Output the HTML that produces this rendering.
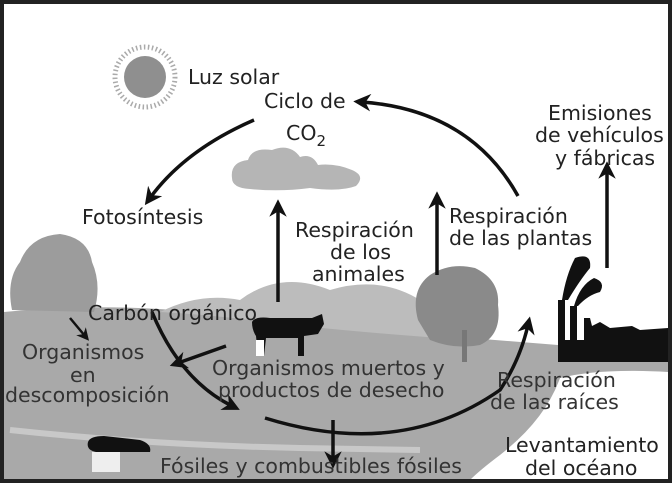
<!DOCTYPE html>
<html><head><meta charset="utf-8"><style>
html,body{margin:0;padding:0;background:#fff}
svg{display:block}
text{font-family:"DejaVu Sans","Liberation Sans",sans-serif;font-size:20.5px;fill:#222}
.g text{fill:#333}
</style></head><body>
<svg width="672" height="483" viewBox="0 0 672 483" xmlns="http://www.w3.org/2000/svg">
<defs>
<marker id="a" viewBox="0 0 10 10" refX="5" refY="5" markerWidth="5" markerHeight="5" orient="auto"><path d="M0,0 L10,5 L0,10 L3,5z" fill="#111"/></marker>
</defs>
<rect x="0" y="0" width="672" height="483" fill="#fff"/>
<path d="M4,312 Q120,300 250,318 Q380,330 470,338 L558,345 L668,345 L668,372 Q600,368 560,378 Q545,420 500,455 Q480,470 470,480 L4,480 Z" fill="#a9a9a9"/>
<path d="M160,312 Q200,292 240,300 Q280,270 330,290 Q380,275 420,300 L440,338 Q330,330 250,320 Q200,314 160,312Z" fill="#bcbcbc"/>
<path d="M12,310 Q6,280 20,262 Q30,236 60,234 Q88,238 92,262 Q102,285 94,312 Z" fill="#9c9c9c"/>
<path d="M418,320 Q410,290 430,275 Q450,262 475,268 Q500,280 498,305 Q502,335 480,345 Q455,350 430,340 Z" fill="#8a8a8a"/>
<rect x="462" y="330" width="5" height="32" fill="#777"/>
<path d="M10,430 Q150,445 300,448 L420,450" stroke="#c8c8c8" stroke-width="6" fill="none"/>
<path d="M252,322 Q255,316 270,318 L312,318 L322,314 L324,324 L318,334 L304,336 L304,356 L298,356 L298,338 L266,338 L264,356 L258,356 L256,336 Q252,330 252,322Z" fill="#111"/>
<rect x="256" y="340" width="8" height="16" fill="#fff"/>
<path d="M88,442 Q90,436 104,436 L140,440 Q152,444 150,452 L130,452 L96,452 Q86,450 88,442Z" fill="#111"/>
<rect x="92" y="452" width="28" height="20" fill="#eee"/>
<path d="M558,340 L558,362 L668,362 L668,328 L640,330 L632,326 L610,328 L600,322 L592,326 L590,318 L584,318 L584,340 Z" fill="#111"/>
<rect x="558" y="300" width="7" height="42" fill="#111"/>
<rect x="570" y="306" width="7" height="36" fill="#111"/>
<path d="M562,300 Q566,275 575,258 Q592,252 590,268 Q580,280 568,300Z" fill="#111"/>
<path d="M574,306 Q580,285 594,278 Q606,282 600,292 Q588,295 578,306Z" fill="#111"/>
<circle cx="145" cy="77" r="21" fill="#8f8f8f"/>
<circle cx="145" cy="77" r="30" fill="none" stroke="#aaa" stroke-width="5" stroke-dasharray="1.5 2.5"/>
<path d="M232,178 Q230,162 248,160 Q252,147 272,150 Q290,143 300,157 Q312,153 318,165 Q335,163 352,170 Q366,176 356,186 Q340,192 310,188 Q280,192 250,189 Q232,188 232,178Z" fill="#b5b5b5"/>
<rect x="2" y="2" width="668" height="479" fill="none" stroke="#222" stroke-width="4"/>
<g stroke="#111" stroke-width="3.5" fill="none" marker-end="url(#a)">
<path d="M254,120 Q185,150 150,198"/>
<path d="M518,196 Q470,110 362,102"/>
<path d="M278,302 L278,208"/>
<path d="M437,275 L437,200"/>
<path d="M607,268 L607,170"/>
<path d="M152,312 Q180,380 232,406"/>
<path d="M265,418 Q400,460 500,390 Q520,360 528,325"/>
<path d="M333,420 L333,460"/>
<path d="M226,346 L178,363"/>
<path d="M70,318 L85,336" stroke-width="2.5"/>
</g>
<text x="188" y="84">Luz solar</text>
<text x="264" y="108">Ciclo de</text>
<text x="286" y="140">CO<tspan font-size="15" dy="6">2</tspan></text>
<text x="82" y="224">Fotosíntesis</text>
<text x="548" y="120">Emisiones</text>
<text x="535" y="142">de vehículos</text>
<text x="555" y="165">y fábricas</text>
<text x="295" y="237">Respiración</text>
<text x="330" y="259">de los</text>
<text x="312" y="281">animales</text>
<text x="449" y="223">Respiración</text>
<text x="449" y="245">de las plantas</text>
<text x="88" y="320">Carbón orgánico</text>
<g class="g">
<text x="22" y="359">Organismos</text>
<text x="70" y="382">en</text>
<text x="5" y="402">descomposición</text>
<text x="212" y="375">Organismos muertos y</text>
<text x="218" y="397">productos de desecho</text>
<text x="497" y="387">Respiración</text>
<text x="490" y="409">de las raíces</text>
<text x="160" y="473">Fósiles y combustibles fósiles</text>
</g>
<text x="505" y="452">Levantamiento</text>
<text x="525" y="475">del océano</text>
</svg>
</body></html>
